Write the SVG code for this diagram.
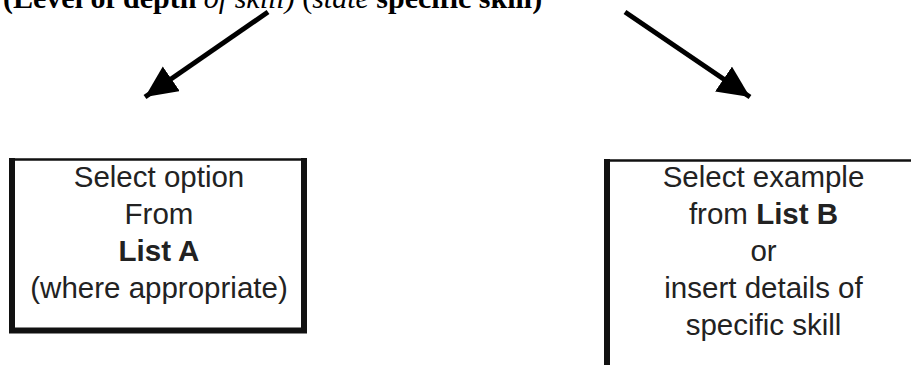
<svg xmlns="http://www.w3.org/2000/svg" width="911" height="365" viewBox="0 0 911 365">
<style>
.hdr{font-family:"Liberation Serif","Times New Roman",serif;font-size:30px;fill:#000}
.b{font-weight:bold}
.i{font-style:italic}
.lbl{font-family:"Liberation Sans",Arial,sans-serif;font-size:29.5px;fill:#222;text-anchor:middle}
.edge{stroke:#111;fill:none}
.conn{stroke:#000;stroke-width:5;fill:none}
</style>
<defs>
<marker id="ah" markerUnits="userSpaceOnUse" markerWidth="36" markerHeight="32" refX="32" refY="15" orient="auto">
<path d="M0,0 L32,15 L0,30 z" fill="#000"/>
</marker>
</defs>
<rect width="911" height="365" fill="#fff"/>
<g id="header">
<text class="hdr" x="3" y="8"><tspan class="b">(Level of depth</tspan><tspan class="i"> of skill)</tspan><tspan>  (</tspan><tspan class="i">state</tspan><tspan class="b"> specific skill)</tspan></text>
</g>
<g id="connectors">
<line class="conn" x1="268" y1="12" x2="145" y2="97" marker-end="url(#ah)"/>
<line class="conn" x1="625" y1="12" x2="750" y2="97" marker-end="url(#ah)"/>
</g>
<g id="node-list-a">
<line class="edge" stroke-width="2.5" x1="12" y1="159.5" x2="304" y2="159.5"/>
<path class="edge" stroke-width="6" d="M12,158 V330.5 H304 V158"/>
<text class="lbl" x="159" y="187">Select option</text>
<text class="lbl" x="159" y="224">From</text>
<text class="lbl" x="159" y="261" font-weight="bold">List A</text>
<text class="lbl" x="159" y="298">(where appropriate)</text>
</g>
<g id="node-list-b">
<line class="edge" stroke-width="2.5" x1="604" y1="160.5" x2="911" y2="160.5"/>
<line class="edge" stroke-width="6" x1="607" y1="159" x2="607" y2="365"/>
<text class="lbl" x="763.5" y="187">Select example</text>
<text class="lbl" x="763.5" y="224">from <tspan font-weight="bold">List B</tspan></text>
<text class="lbl" x="763.5" y="261">or</text>
<text class="lbl" x="763.5" y="298">insert details of</text>
<text class="lbl" x="763.5" y="335">specific skill</text>
</g>
</svg>
